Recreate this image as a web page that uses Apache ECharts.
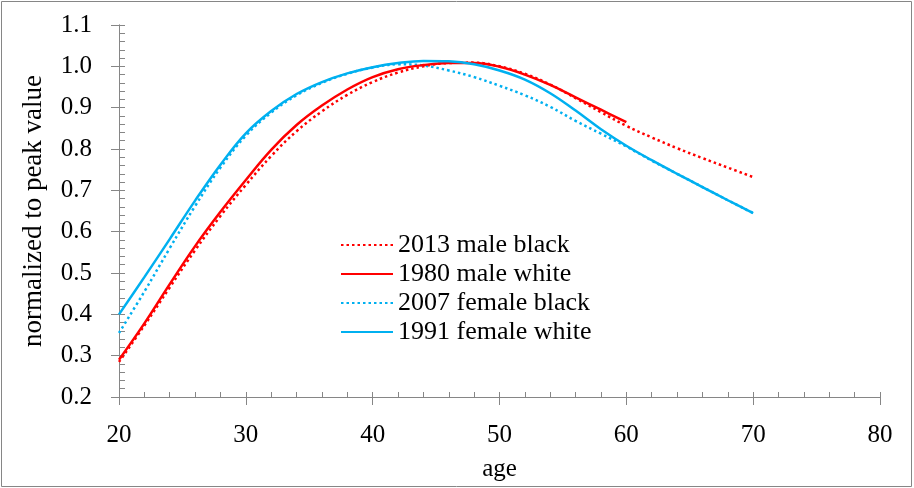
<!DOCTYPE html>
<html>
<head>
<meta charset="utf-8">
<script src="https://cdn.jsdelivr.net/npm/echarts@6/dist/echarts.min.js"></script>
<style>
html,body{margin:0;padding:0;background:#fff;}
#chart{width:914px;height:488px;}
</style>
</head>
<body>
<div id="chart"></div>
<script>
// ages (step 2 years)
const ages20to70 = [20,22,24,26,28,30,32,34,36,38,40,42,44,46,48,50,52,54,56,58,60,62,64,66,68,70];
const ages20to60 = [20,22,24,26,28,30,32,34,36,38,40,42,44,46,48,50,52,54,56,58,60];

const seriesNames = ['2013 male black','1980 male white','2007 female black','1991 female white'];

const male2013Black = [0.285,0.373,0.465,0.555,0.638,0.713,0.783,0.843,0.891,0.931,0.962,0.985,1.000,1.008,1.009,1.000,0.982,0.956,0.923,0.889,0.856,0.828,0.802,0.778,0.755,0.732];
const male1980White = [0.290,0.378,0.473,0.565,0.648,0.725,0.798,0.858,0.905,0.944,0.974,0.993,1.003,1.008,1.008,0.999,0.980,0.955,0.925,0.895,0.865];
const female2007Black = [0.355,0.455,0.560,0.662,0.755,0.832,0.888,0.930,0.960,0.982,0.997,1.005,1.002,0.990,0.974,0.953,0.930,0.902,0.868,0.837,0.806,0.772,0.740,0.708,0.676,0.645];
const female1991White = [0.400,0.490,0.582,0.675,0.762,0.838,0.892,0.933,0.962,0.983,0.998,1.008,1.013,1.012,1.005,0.990,0.968,0.935,0.893,0.848,0.808,0.773,0.740,0.708,0.676,0.645];

const xTicks = {min:20, max:80, interval:10};
const yTicks = {min:0.2, max:1.1, interval:0.1};

function pairs(xs, ys){ return xs.map((x,i)=>[x, ys[i]]); }

const RED = '#FF0000', BLUE = '#00B0F0', GRAY = '#868686';
const FONT = 'Liberation Serif';
const dotted = [2.5, 3];

const chart = echarts.init(document.getElementById('chart'));
chart.setOption({
  animation: false,
  backgroundColor: '#fff',
  graphic: [{
    type: 'rect', silent: true, z: 100,
    shape: {x: 1.5, y: 1.5, width: 910, height: 485},
    style: {fill: 'none', stroke: GRAY, lineWidth: 1}
  }],
  grid: {left: 119, right: 34, top: 25, bottom: 91, containLabel: false},
  legend: {
    orient: 'vertical', left: 335, top: 227,
    itemWidth: 52, itemHeight: 14, itemGap: 3,
    data: seriesNames.map(n => ({name: n, itemStyle: {opacity: 0}})),
    itemStyle: {opacity: 0},
    textStyle: {fontFamily: FONT, fontSize: 26, color: '#000'}
  },
  xAxis: [{
    type: 'value', min: xTicks.min, max: xTicks.max, interval: xTicks.interval,
    position: 'bottom',
    name: 'age', nameLocation: 'middle', nameGap: 60,
    nameTextStyle: {fontFamily: FONT, fontSize: 25, color: '#000'},
    axisLine: {show: true, lineStyle: {color: GRAY, width: 1}},
    axisTick: {show: true, inside: false, length: 8, lineStyle: {color: GRAY}},
    axisLabel: {fontFamily: FONT, fontSize: 25, color: '#000', margin: 26},
    splitLine: {show: false}
  }, {
    type: 'value', min: xTicks.min, max: xTicks.max, interval: xTicks.interval,
    position: 'bottom', gridIndex: 0, offset: 0,
    axisLine: {show: true, onZero: false, lineStyle: {color: GRAY, width: 1}},
    axisTick: {show: true, inside: true, length: 5, lineStyle: {color: GRAY}},
    minorTick: {show: true, splitNumber: 5, length: 5, lineStyle: {color: GRAY}},
    axisLabel: {show: false},
    splitLine: {show: false}
  }],
  yAxis: [{
    type: 'value', min: yTicks.min, max: yTicks.max, interval: yTicks.interval,
    position: 'left',
    name: 'normalized to peak value', nameLocation: 'middle', nameGap: 72,
    nameTextStyle: {fontFamily: FONT, fontSize: 27, color: '#000'},
    axisLine: {show: true, lineStyle: {color: GRAY, width: 1}},
    axisTick: {show: true, inside: false, length: 8, lineStyle: {color: GRAY}},
    axisLabel: {fontFamily: FONT, fontSize: 25, color: '#000', margin: 27,
      formatter: v => v.toFixed(1)},
    splitLine: {show: false}
  }, {
    type: 'value', min: yTicks.min, max: yTicks.max, interval: yTicks.interval,
    position: 'left', gridIndex: 0, offset: 0,
    axisLine: {show: true, onZero: false, lineStyle: {color: GRAY, width: 1}},
    axisTick: {show: true, inside: true, length: 6, lineStyle: {color: GRAY}},
    minorTick: {show: true, splitNumber: 5, length: 6, lineStyle: {color: GRAY}},
    axisLabel: {show: false},
    splitLine: {show: false}
  }],
  series: [
    {name: seriesNames[0], type: 'line', smooth: 0.4, symbol: 'none', z: 3,
     data: pairs(ages20to70, male2013Black),
     itemStyle: {color: RED}, lineStyle: {color: RED, width: 2.5, type: dotted}},
    {name: seriesNames[1], type: 'line', smooth: 0.4, symbol: 'none', z: 4,
     data: pairs(ages20to60, male1980White),
     itemStyle: {color: RED}, lineStyle: {color: RED, width: 2.5, type: 'solid'}},
    {name: seriesNames[2], type: 'line', smooth: 0.4, symbol: 'none', z: 3,
     data: pairs(ages20to70, female2007Black),
     itemStyle: {color: BLUE}, lineStyle: {color: BLUE, width: 2.5, type: dotted}},
    {name: seriesNames[3], type: 'line', smooth: 0.4, symbol: 'none', z: 4,
     data: pairs(ages20to70, female1991White),
     itemStyle: {color: BLUE}, lineStyle: {color: BLUE, width: 2.5, type: 'solid'}}
  ]
});
</script>
</body>
</html>
